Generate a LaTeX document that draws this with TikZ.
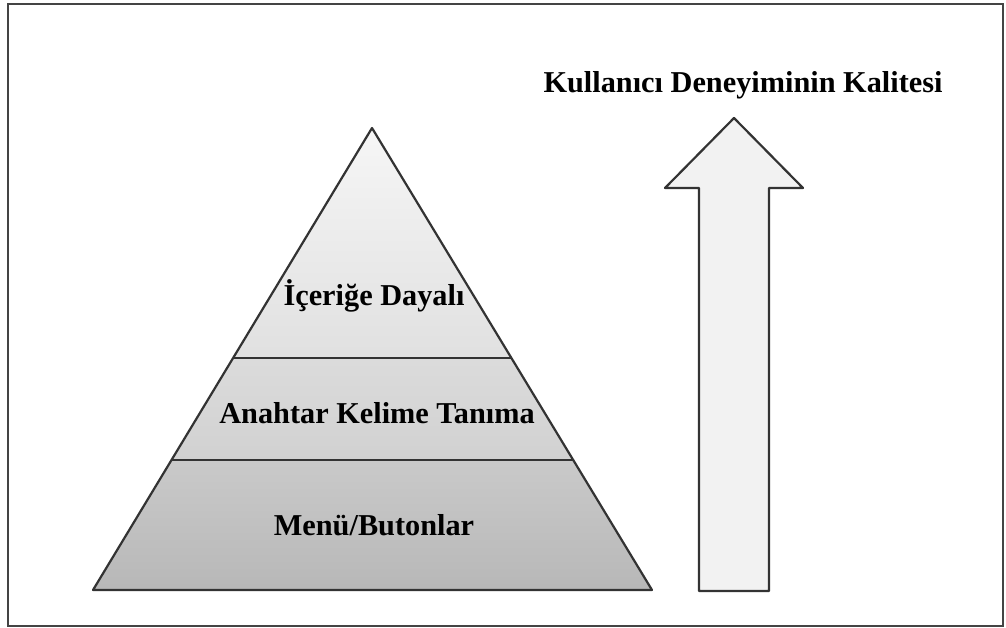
\documentclass[tikz,border=0pt]{standalone}
\usepackage{fontspec}
\setmainfont{Liberation Serif}
\usetikzlibrary{calc}
\definecolor{edge}{HTML}{333333}
\definecolor{frameline}{HTML}{444444}
\tikzset{
  outline/.style={draw=edge, line width=2.2pt, line join=round},
  label/.style={font=\fontsize{30.3}{35}\selectfont\bfseries, text=black, anchor=base, inner sep=0pt},
}
\begin{document}
\begin{tikzpicture}[x=1pt, y=-1pt]
  % page and frame
  \useasboundingbox (0,0) rectangle (1006,627);
  \draw[frameline, line width=2pt] (8,4) rectangle (1003,626);

  % pyramid corners and tier boundaries
  \coordinate (apex) at (372,128);
  \coordinate (bl) at (93,590);
  \coordinate (br) at (652,590);
  \coordinate (u1) at ($(apex)!{(358-128)/(590-128)}!(bl)$);
  \coordinate (u2) at ($(apex)!{(358-128)/(590-128)}!(br)$);
  \coordinate (l1) at ($(apex)!{(460-128)/(590-128)}!(bl)$);
  \coordinate (l2) at ($(apex)!{(460-128)/(590-128)}!(br)$);

  % tiers, shaded from light at the top to mid grey at the base
  \fill[top color=gray!7, bottom color=gray!24] (apex) -- (u2) -- (u1) -- cycle;
  \fill[top color=gray!28, bottom color=gray!36] (u1) -- (u2) -- (l2) -- (l1) -- cycle;
  \fill[top color=gray!42, bottom color=gray!56] (l1) -- (l2) -- (br) -- (bl) -- cycle;
  \draw[outline] (apex) -- (br) -- (bl) -- cycle;
  \draw[outline, line width=2pt] (u1) -- (u2);
  \draw[outline, line width=2pt] (l1) -- (l2);

  % tier labels
  \node[label] (top) at (374,305) {İçeriğe Dayalı};
  \node[label] (mid) at (377,423) {Anahtar Kelime Tanıma};
  \node[label] (bot) at (374,535) {Menü/Butonlar};

  % upward arrow
  \coordinate (tip) at (734,118);
  \coordinate (hl) at (665,188);
  \coordinate (hr) at (803,188);
  \coordinate (sl) at (699,188);
  \coordinate (sr) at (769,188);
  \coordinate (bl2) at (699,591);
  \coordinate (br2) at (769,591);
  \draw[outline, fill=gray!10] (tip) -- (hr) -- (sr) -- (br2) -- (bl2) -- (sl) -- (hl) -- cycle;

  % arrow caption
  \node[label] (quality) at (743,92) {Kullanıcı Deneyiminin Kalitesi};
\end{tikzpicture}
\end{document}
